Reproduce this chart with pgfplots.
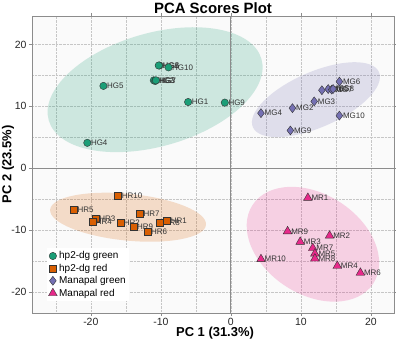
\documentclass[border=0pt]{standalone}
\usepackage{fontspec}
\setmainfont{Liberation Sans}
\usepackage{pgfplots}
\usepackage{pgfplotstable}
\pgfplotsset{compat=1.18}
\definecolor{cG}{HTML}{1B9E77}
\definecolor{cO}{HTML}{D95F02}
\definecolor{cP}{HTML}{7570B3}
\definecolor{cM}{HTML}{E7298A}
\definecolor{frame}{HTML}{8C8C8C}
\pgfplotstableread{
x y label
-10.2 16.6 HG6
-10.3 16.6 HG8
-8.9 16.3 HG10
-11.0 14.2 HG2
-10.8 14.1 HG3
-10.7 14.2 HG7
-18.2 13.3 HG5
-6.1 10.7 HG1
-0.86 10.6 HG9
-20.5 4.1 HG4
}\tabHG
\pgfplotstableread{
x y label
-16.1 -4.4 HR10
-22.4 -6.7 HR5
-19.3 -8.2 HR3
-19.8 -8.7 HR4
-15.8 -8.8 HR2
-13.0 -7.3 HR7
-13.9 -9.4 HR9
-11.9 -10.3 HR6
-10.1 -8.8 HR8
-9.1 -8.5 HR1
}\tabHR
\pgfplotstableread{
x y label
15.5 14.0 MG6
13.0 12.6 MG1
13.9 12.8 MG5
14.4 12.7 MG7
14.6 12.8 MG8
11.9 10.8 MG3
8.8 9.7 MG2
4.3 8.9 MG4
15.5 8.5 MG10
8.5 6.1 MG9
}\tabMG
\pgfplotstableread{
x y label
11.0 -4.8 MR1
8.1 -10.2 MR9
14.1 -10.9 MR2
9.9 -11.9 MR3
11.7 -12.9 MR7
12.0 -13.8 MR5
12.0 -14.6 MR8
4.3 -14.7 MR10
15.2 -15.8 MR4
18.5 -16.9 MR6
}\tabMR
\begin{document}
\begin{tikzpicture}
\begin{axis}[
  scale only axis,
  width=362bp, height=297bp,
  xmin=-28.4, xmax=23.3, ymin=-23.4, ymax=24.6,
  xtick={-20,-10,0,10,20}, ytick={-20,-10,0,10,20},
  minor xtick={-25,-15,-5,5,15}, minor ytick={-15,-5,5,15},
  grid=both,
  major grid style={densely dotted, gray!45, line width=0.6pt},
  minor grid style={densely dotted, gray!45, line width=0.6pt},
  minor tick length=0pt,
  major tick length=3bp,
  tick align=outside,
  tick style={frame, line width=0.6pt},
  axis line style={frame, line width=0.9pt},
  axis background/.style={fill=white!98!black},
  /pgf/number format/assume math mode=true,
  ticklabel style={font=\fontsize{10.5}{12}\selectfont, text=black!85},
  xticklabel style={yshift=1bp},
  yticklabel style={xshift=1bp},
  xlabel={\bfseries PC 1 (31.3\%)},
  ylabel={\bfseries PC 2 (23.5\%)},
  every axis x label/.style={at={(axis description cs:0.5,0)}, anchor=center, yshift=-20bp, xshift=2bp, font=\fontsize{13}{14}\selectfont},
  every axis y label/.style={at={(axis description cs:0,0.5)}, xshift=-24bp, rotate=90, anchor=center, font=\fontsize{13}{14}\selectfont},
  title={\bfseries PCA Scores Plot},
  every axis title/.style={at={(axis description cs:0.5,1)}, anchor=base, yshift=3bp, font=\fontsize{15}{16}\selectfont},
  legend style={at={(rel axis cs:0.041,0.219)}, anchor=north west, draw=none, fill=white,
    font=\fontsize{10}{11}\selectfont, inner sep=1.5bp, row sep=-0.3bp,
    legend cell align=left},
  point meta=explicit symbolic,
  nodes near coords,
  nodes near coords style={anchor=west, xshift=3.5bp, inner sep=0pt, font=\fontsize{8}{9}\selectfont, text=black!80},
  every axis plot/.append style={only marks},
  clip=true,
]
% ellipses
\fill[cG, fill opacity=0.2, rotate around={16.1:(axis cs:-10.82,12.69)}] (axis cs:-10.82,12.69) ellipse [x radius=110.7bp, y radius=56.6bp];
\fill[cP, fill opacity=0.2, rotate around={23.6:(axis cs:12.15,11.08)}] (axis cs:12.15,11.08) ellipse [x radius=68.8bp, y radius=27.7bp];
\fill[cO, fill opacity=0.2, rotate around={-5.6:(axis cs:-14.68,-7.92)}] (axis cs:-14.68,-7.92) ellipse [x radius=78.3bp, y radius=23.4bp];
\fill[cM, fill opacity=0.2, rotate around={-33:(axis cs:11.72,-12.29)}] (axis cs:11.72,-12.29) ellipse [x radius=72bp, y radius=50bp];
\draw[frame, line width=0.9pt] (axis cs:0,-23.4) -- (axis cs:0,24.6);
\draw[frame, line width=0.9pt] (axis cs:-28.4,0) -- (axis cs:23.3,0);
\addplot[mark=*, mark size=3.7bp, mark options={fill=cG, draw=black!80, line width=0.4pt}] table[x=x, y=y, meta=label] {\tabHG};
\addplot[mark=square*, mark size=3.5bp, mark options={fill=cO, draw=black!80, line width=0.4pt}] table[x=x, y=y, meta=label] {\tabHR};
\addplot[mark=diamond*, mark size=4.5bp, mark options={fill=cP, draw=black!80, line width=0.4pt}] table[x=x, y=y, meta=label] {\tabMG};
\addplot[mark=triangle*, mark size=5bp, mark options={fill=cM, draw=black!80, line width=0.4pt}] table[x=x, y=y, meta=label] {\tabMR};
\legend{hp2-dg green, hp2-dg red, Manapal green, Manapal red}
\end{axis}
\pgfresetboundingbox
\path[use as bounding box] ([xshift=-32bp,yshift=-27bp]current axis.south west) rectangle ([xshift=2bp,yshift=16bp]current axis.north east);
\end{tikzpicture}
\end{document}
